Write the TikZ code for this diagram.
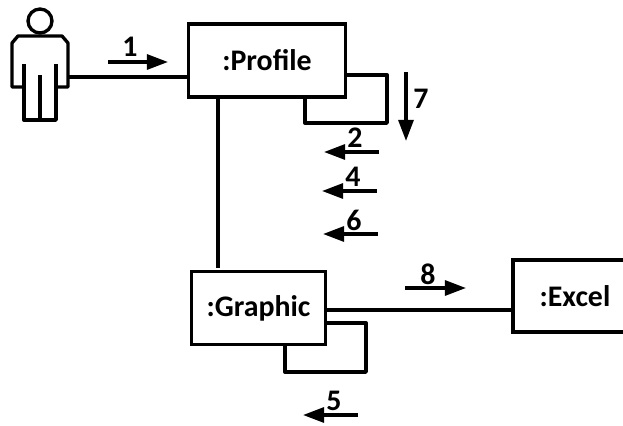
\documentclass[tikz,border=0pt]{standalone}
\usepackage{fontspec}
\setmainfont{Carlito}
\usetikzlibrary{arrows.meta}

\tikzset{
    objbox/.style={draw, line width=1.9pt, font=\fontsize{17}{20}\selectfont\bfseries},
    wire/.style={line width=1.9pt, line join=round},
    msg/.style={line width=1.9pt, -{Triangle[length=12pt, width=8.5pt]}},
    msgnum/.style={font=\fontsize{17}{20}\selectfont\bfseries, inner sep=0pt}
}

\begin{document}
\begin{tikzpicture}[x=0.02cm, y=-0.02cm]
        \clip (0, 0) rectangle (623, 426);

        % objects
        \node [objbox, minimum width=3.14cm, minimum height=1.46cm] (profile) at (267, 60.5) {:Profile};
        \node [objbox, minimum width=2.67cm, minimum height=1.47cm] (graphic) at (258.5, 308) {:Graphic};
        \node [objbox, minimum width=2.48cm, minimum height=1.44cm] (excel) at (575, 296) {:Excel};

        % actor
        \draw [wire] (40, 21) circle (12);
        \draw [wire] (24, 87) -- (12, 87) -- (12, 43) -- (18, 36) -- (62, 36) -- (68, 43) -- (68, 87) -- (56, 87);
        \draw [wire] (24, 64) -- (24, 120) -- (56, 120) -- (56, 64);
        \draw [wire] (40, 75) -- (40, 120);
        \coordinate (actor) at (68, 77);

        % links
        \coordinate (graphictop) at (218, 268);
        \coordinate (graphicout) at (325, 310);
        \draw [wire] (actor) -- (actor -| profile.west);
        \draw [wire] (graphictop |- profile.south) -- (graphictop);
        \draw [wire] (graphicout) -- (graphicout -| excel.west);
        \draw [wire] (346, 75) -- (387, 75) -- (387, 123) -- (305, 123) -- (305, 97);
        \draw [wire] (325, 323) -- (366, 323) -- (366, 372) -- (285, 372) -- (285, 345);

        % messages
        \coordinate (m1a) at (108, 62);
        \coordinate (m1b) at (168, 62);
        \coordinate (m2a) at (379, 152);
        \coordinate (m2b) at (324, 152);
        \coordinate (m4a) at (377, 191);
        \coordinate (m4b) at (322, 191);
        \coordinate (m6a) at (378, 234);
        \coordinate (m6b) at (323, 234);
        \coordinate (m7a) at (406, 72);
        \coordinate (m7b) at (406, 141);
        \coordinate (m8a) at (405, 288);
        \coordinate (m8b) at (466, 288);
        \coordinate (m5a) at (358, 415);
        \coordinate (m5b) at (303, 415);
        \draw [msg] (m1a) -- (m1b);
        \draw [msg] (m2a) -- (m2b);
        \draw [msg] (m4a) -- (m4b);
        \draw [msg] (m6a) -- (m6b);
        \draw [msg] (m7a) -- (m7b);
        \draw [msg] (m8a) -- (m8b);
        \draw [msg] (m5a) -- (m5b);

        \node [msgnum] (n1) at (130, 47) {1};
        \node [msgnum] (n2) at (355, 138) {2};
        \node [msgnum] (n4) at (353, 177) {4};
        \node [msgnum] (n6) at (354, 220) {6};
        \node [msgnum] (n7) at (421, 99) {7};
        \node [msgnum] (n8) at (428, 274) {8};
        \node [msgnum] (n5) at (334, 401) {5};
    \end{tikzpicture}
\end{document}
